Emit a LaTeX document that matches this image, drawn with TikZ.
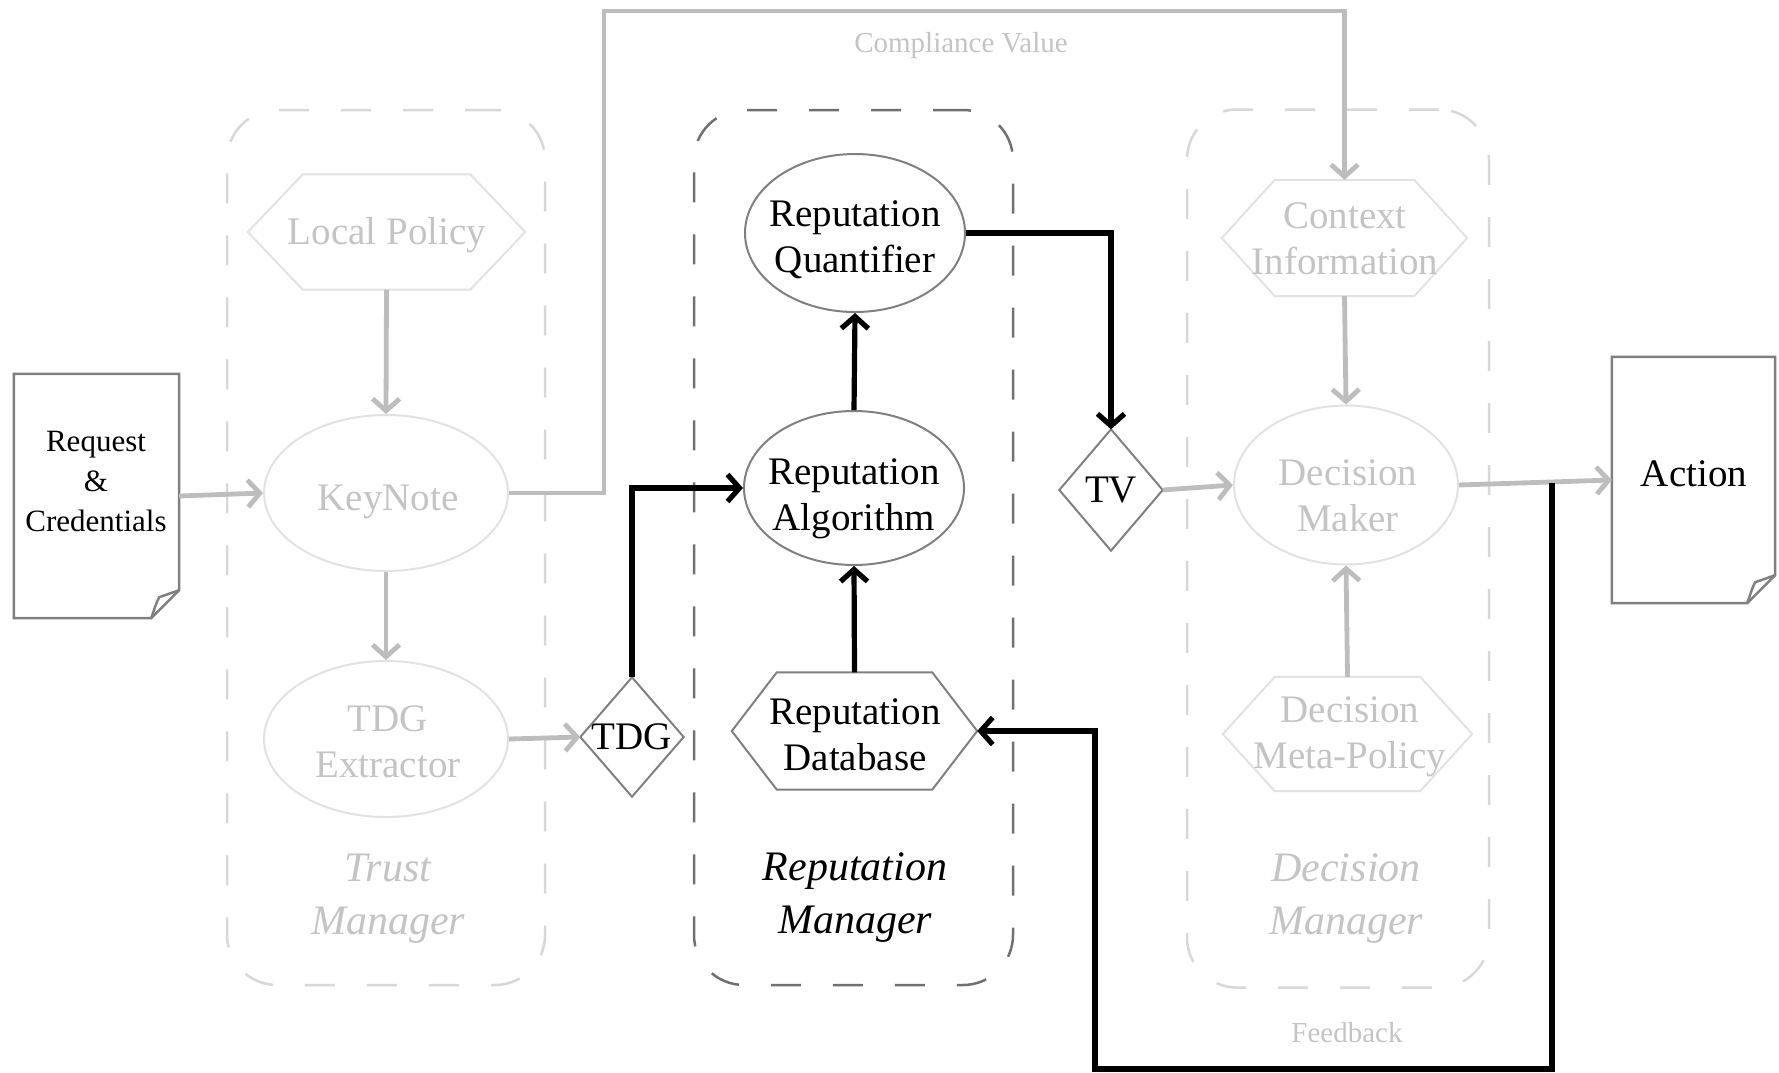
\documentclass[tikz,border=0pt]{standalone}
\usepackage{fontspec}
\setmainfont{Liberation Serif}
\usetikzlibrary{arrows.meta,calc,shapes.geometric}
\definecolor{gline}{HTML}{BDBDBD}
\definecolor{gtext}{HTML}{C4C4C4}
\definecolor{gshape}{HTML}{E2E2E2}
\definecolor{gbox}{HTML}{D8D8D8}
\definecolor{dbox}{HTML}{707070}
\definecolor{dshape}{HTML}{808080}
\newcommand\mainfs{\fontsize{39pt}{46pt}\selectfont}
\newcommand\reqfs{\fontsize{31pt}{40pt}\selectfont}
\newcommand\mgrfs{\fontsize{42pt}{53pt}\selectfont}
\newcommand\lblfs{\fontsize{29pt}{34pt}\selectfont}
\newcommand\hexdraw[3]{\draw[#3] (#1.west) -- ($(#1.north west)+(#2,0)$) -- ($(#1.north east)+(-#2,0)$) -- (#1.east) -- ($(#1.south east)+(-#2,0)$) -- ($(#1.south west)+(#2,0)$) -- cycle;}
\newcommand\diadraw[2]{\draw[#2] (#1.north) -- (#1.east) -- (#1.south) -- (#1.west) -- cycle;}
\newcommand\docdraw[3]{%
  \draw[#3] (#1.north west) -- (#1.north east) -- ($(#1.south east)+(0,-#2)$) -- ($(#1.south east)+(-#2,0)$) -- (#1.south west) -- cycle;
  \draw[#3] ($(#1.south east)+(-#2,0)$) .. controls ($(#1.south east)+(-#2+3,-8)$) and ($(#1.south east)+(-#2+5,-16)$) .. ($(#1.south east)+(-#2+8,-#2+7)$) -- ($(#1.south east)+(0,-#2)$);}
\begin{document}
\begin{tikzpicture}[x=1pt,y=-1pt,
  mgrbox/.style={rectangle, rounded corners=50pt, line width=2.5pt, dash pattern=on 30pt off 32pt, inner sep=0pt},
  shapebox/.style={rectangle, draw=none, inner sep=0pt, align=center, font=\mainfs},
  ell/.style={ellipse, inner sep=0pt, line width=2pt},
  etext/.style={inner sep=0pt, align=center, font=\mainfs},
  gnode/.style={text=gtext},
  garrow/.style={draw=gline, line width=4.8pt, -{Straight Barb[length=12pt,width=27pt]}},
  barrow/.style={draw=black, line width=5.2pt, -{Straight Barb[length=12pt,width=27pt]}},
  gshp/.style={draw=gshape, line width=2pt},
  dshp/.style={draw=dshape, line width=2pt},
  docshp/.style={draw=dshape, line width=2.5pt, line join=miter}
]
\useasboundingbox (0,0) rectangle (1779,1072);

% manager boxes
\node[mgrbox, draw=gbox, minimum width=318pt, minimum height=875pt] (tmbox) at (386,547.5) {};
\node[mgrbox, draw=dbox, minimum width=319pt, minimum height=875pt] (rmbox) at (853.5,547.5) {};
\node[mgrbox, draw=gbox, minimum width=302pt, minimum height=878pt] (dmbox) at (1338,548.5) {};

% documents
\node[shapebox, minimum width=165pt, minimum height=244pt] (req) at (96.5,496) {};
\docdraw{req}{28}{docshp}
\node[font=\reqfs, align=center] (reqtxt) at (96,481) {Request\\\&\\Credentials};
\node[shapebox, minimum width=163pt, minimum height=246pt] (act) at (1693.5,480) {};
\docdraw{act}{28}{docshp}
\node[etext] (acttxt) at (1694,474) {Action};

% trust manager
\node[shapebox, gnode, minimum width=277pt, minimum height=115pt] (lp) at (386.5,232) {};
\hexdraw{lp}{55}{gshp}
\node[etext, gnode] (lptxt) at (387,235) {Local Policy};
\node[ell, draw=gshape, minimum width=244pt, minimum height=156pt] (kn) at (386,493) {};
\node[etext, gnode] (kntxt) at (388,502) {KeyNote};
\node[ell, draw=gshape, minimum width=244pt, minimum height=156pt] (tdge) at (386,739) {};
\node[etext, gnode] (tdgetxt) at (388,742) {TDG\\Extractor};
\node[font=\mgrfs\itshape, text=gtext, align=center] (tmlab) at (388,899) {Trust\\Manager};

% TDG diamond
\node[shapebox, minimum width=103pt, minimum height=119pt] (tdg) at (632,737) {TDG};
\diadraw{tdg}{dshp}

% reputation manager
\node[ell, draw=dshape, minimum width=220pt, minimum height=158pt] (rq) at (855,233) {};
\node[etext] (rqtxt) at (855,240) {Reputation\\Quantifier};
\node[ell, draw=dshape, minimum width=220pt, minimum height=154pt] (ra) at (854,488) {};
\node[etext] (ratxt) at (854,499) {Reputation\\Algorithm};
\node[shapebox, minimum width=245pt, minimum height=117pt] (rdb) at (854.5,731) {};
\hexdraw{rdb}{45}{dshp}
\node[etext] (rdbtxt) at (855,735) {Reputation\\Database};
\node[font=\mgrfs\itshape, align=center] (rmlab) at (855,898) {Reputation\\Manager};

% TV diamond
\node[shapebox, minimum width=103pt, minimum height=121pt] (tv) at (1111,490) {TV};
\diadraw{tv}{dshp}

% decision manager
\node[shapebox, minimum width=245pt, minimum height=116pt] (ci) at (1344.5,238) {};
\hexdraw{ci}{53}{gshp}
\node[etext, gnode] (citxt) at (1345,239) {Context\\Information};
\node[ell, draw=gshape, minimum width=224pt, minimum height=159pt] (dm) at (1346,485) {};
\node[etext, gnode] (dmtxt) at (1348,496) {Decision\\Maker};
\node[shapebox, minimum width=249pt, minimum height=114pt] (dmp) at (1347.5,734) {};
\hexdraw{dmp}{52}{gshp}
\node[etext, gnode] (dmptxt) at (1350,737) {Decision\\Meta-Policy};
\node[font=\mgrfs\itshape, text=gtext, align=center] (dmlab) at (1346,899) {Decision\\Manager};

% labels
\node[font=\lblfs, text=gtext] (cvlab) at (961,46) {Compliance Value};
\node[font=\lblfs, text=gtext] (fblab) at (1347,1033) {Feedback};

% coordinates
\coordinate (cvA) at (604,11);
\coordinate (fbA) at (1552,483);
\coordinate (fbB) at (1095,1069);

% gray connectors
\draw[garrow] (req.east) -- (kn.west);
\draw[garrow] (lp.south) -- (kn.north);
\draw[garrow] (kn.south) -- (tdge.north);
\draw[garrow] (tdge.east) -- (tdg.west);
\draw[garrow, line join=miter] (kn.east) -| (cvA) -| (ci.north);
\draw[garrow] (ci.south) -- (dm.north);
\draw[garrow] (dmp.north) -- (dm.south);
\draw[garrow] (tv.east) -- (dm.west);
\draw[garrow] (dm.east) -- (act.west);

% black connectors
\draw[barrow, line join=miter] (tdg.north) |- (ra.west);
\draw[barrow] (rdb.north) -- (ra.south);
\draw[barrow] (ra.north) -- (rq.south);
\draw[barrow, line join=miter] (rq.east) -| (tv.north);
\draw[barrow, line join=miter] (fbA) |- (fbB) |- (rdb.east);
\end{tikzpicture}
\end{document}
